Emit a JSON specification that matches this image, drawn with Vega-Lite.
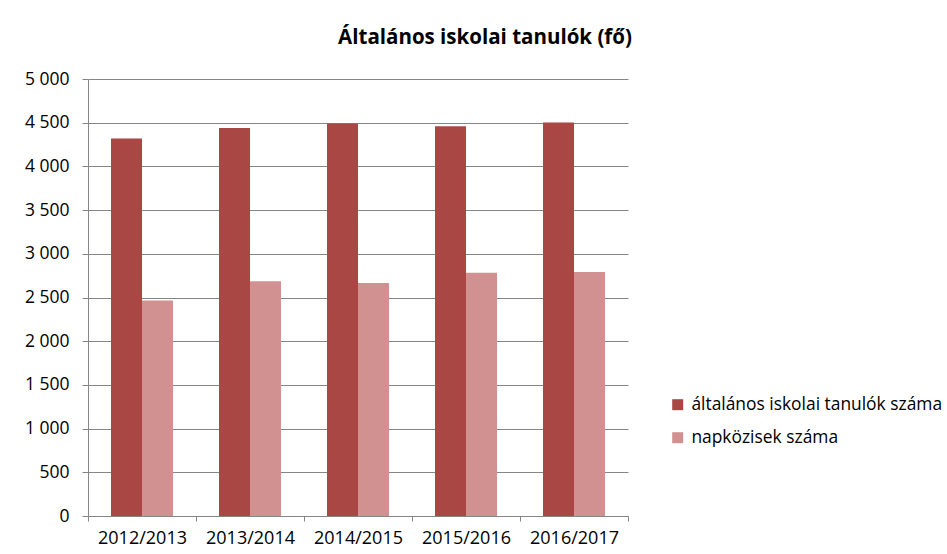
{
  "$schema": "https://vega.github.io/schema/vega-lite/v6.json",
  "autosize": {"type": "none"},
  "padding": {"left": 88, "top": 79, "right": 319, "bottom": 38},
  "width": 540,
  "height": 437,
  "background": "white",
  "title": {
    "text": "Általános iskolai tanulók (fő)",
    "font": "Open Sans",
    "fontSize": 20.5,
    "fontWeight": "bold",
    "color": "#000000",
    "anchor": "middle",
    "dx": 127,
    "offset": 22
  },
  "data": {
    "values": [
      {"year": "2012/2013", "series": "általános iskolai tanulók száma", "value": 4320},
      {"year": "2012/2013", "series": "napközisek száma", "value": 2465},
      {"year": "2013/2014", "series": "általános iskolai tanulók száma", "value": 4438},
      {"year": "2013/2014", "series": "napközisek száma", "value": 2687},
      {"year": "2014/2015", "series": "általános iskolai tanulók száma", "value": 4492},
      {"year": "2014/2015", "series": "napközisek száma", "value": 2665},
      {"year": "2015/2016", "series": "általános iskolai tanulók száma", "value": 4458},
      {"year": "2015/2016", "series": "napközisek száma", "value": 2782},
      {"year": "2016/2017", "series": "általános iskolai tanulók száma", "value": 4503},
      {"year": "2016/2017", "series": "napközisek száma", "value": 2793}
    ]
  },
  "mark": {"type": "bar", "stroke": null},
  "encoding": {
    "x": {
      "field": "year",
      "type": "nominal",
      "sort": null,
      "scale": {"paddingInner": 0, "paddingOuter": 0},
      "axis": {
        "title": null,
        "labelAngle": 0,
        "tickBand": "extent",
        "tickSize": 5,
        "labelPadding": 8,
        "labelFontSize": 18,
        "grid": false
      }
    },
    "xOffset": {
      "field": "series",
      "type": "nominal",
      "sort": ["általános iskolai tanulók száma", "napközisek száma"],
      "scale": {"paddingInner": 0, "paddingOuter": 0.742}
    },
    "y": {
      "field": "value",
      "type": "quantitative",
      "scale": {"domain": [0, 5000], "nice": false},
      "axis": {
        "title": null,
        "values": [0, 500, 1000, 1500, 2000, 2500, 3000, 3500, 4000, 4500, 5000],
        "labelExpr": "replace(format(datum.value, ','), ',', ' ')",
        "tickSize": 6,
        "labelPadding": 13,
        "labelFontSize": 17.5,
        "grid": true
      }
    },
    "color": {
      "field": "series",
      "type": "nominal",
      "scale": {
        "domain": ["általános iskolai tanulók száma", "napközisek száma"],
        "range": ["#A94744", "#D19190"]
      },
      "legend": {
        "title": null,
        "orient": "none",
        "legendX": 581,
        "legendY": 317,
        "symbolType": "square",
        "symbolSize": 121,
        "symbolStrokeWidth": 0,
        "rowPadding": 14,
        "labelLimit": 500,
        "labelOffset": 5,
        "labelFontSize": 17.4,
        "padding": 0
      }
    }
  },
  "config": {
    "view": {"stroke": null},
    "axis": {
      "labelFont": "Open Sans",
      "labelFontSize": 17,
      "labelColor": "#000000",
      "domainColor": "#868686",
      "tickColor": "#868686",
      "gridColor": "#868686",
      "gridWidth": 1,
      "domainWidth": 1,
      "tickWidth": 1
    },
    "legend": {
      "labelFont": "Open Sans",
      "labelFontSize": 17.4,
      "labelColor": "#000000"
    }
  }
}
